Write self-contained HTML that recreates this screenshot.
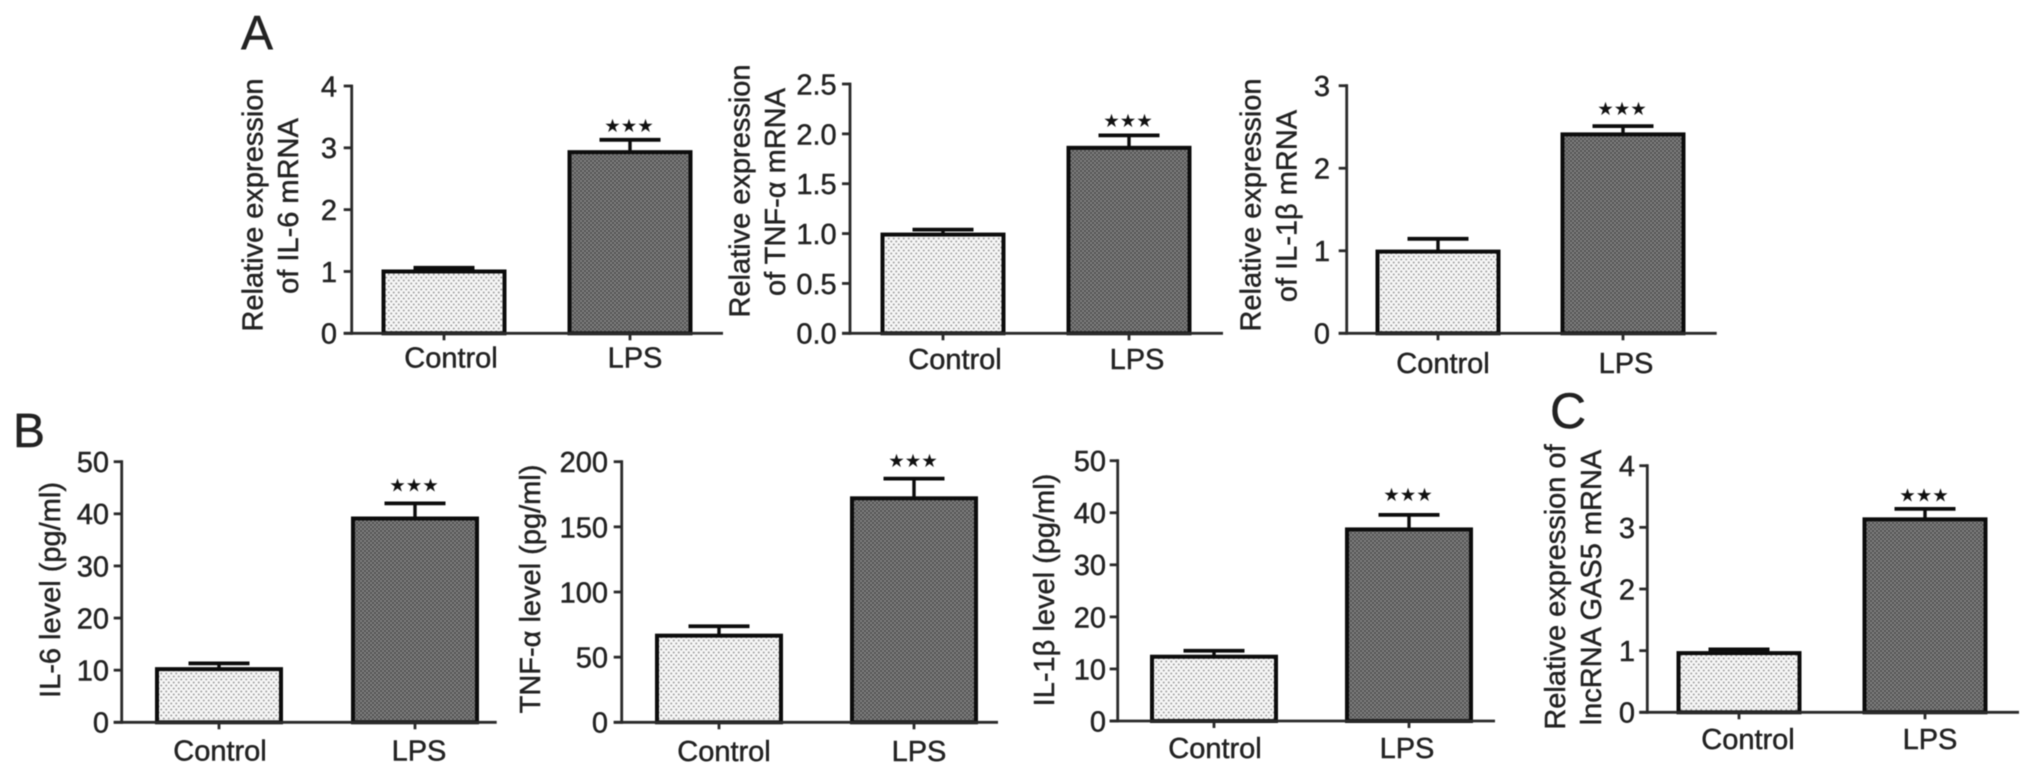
<!DOCTYPE html>
<html lang="en">
<head>
<meta charset="utf-8">
<title>Cytokine and GAS5 expression bar charts</title>
<style>
  html, body { margin: 0; padding: 0; background: #fff; width: 2032px; height: 774px; overflow: hidden; }
  svg { display: block; filter: blur(0.55px); }
  text { font-family: "Liberation Sans", "DejaVu Sans", sans-serif; fill: #222; stroke: #222; stroke-width: 0.45px; }
</style>
</head>
<body>
<svg id="figure" xmlns="http://www.w3.org/2000/svg" width="2032" height="774" viewBox="0 0 2032 774">
  <defs>
    <pattern id="dots-light" patternUnits="userSpaceOnUse" width="5" height="6">
      <rect width="5" height="6" fill="#f7f7f7"/>
      <circle cx="1.25" cy="1.5" r="1.05" fill="#a2a2a2"/>
      <circle cx="3.75" cy="4.5" r="1.05" fill="#a2a2a2"/>
    </pattern>
    <pattern id="dots-dark" patternUnits="userSpaceOnUse" width="4" height="4">
      <rect width="4" height="4" fill="#555"/>
      <circle cx="1" cy="1" r="0.95" fill="#909090"/>
      <circle cx="3" cy="3" r="0.95" fill="#909090"/>
    </pattern>
  </defs>
  <text x="241" y="49" font-size="48">A</text>
  <text x="13" y="447" font-size="48">B</text>
  <text x="1550" y="428" font-size="50">C</text>
</svg>
<script>
// ---- chart data ----
const categories = ['Control', 'LPS'];

const il6MrnaValues = [1.0, 2.93];
const il6MrnaErrors = [0.06, 0.2];
const il6MrnaTicks = ['0', '1', '2', '3', '4'];

const tnfMrnaValues = [0.99, 1.86];
const tnfMrnaErrors = [0.05, 0.125];
const tnfMrnaTicks = ['0.0', '0.5', '1.0', '1.5', '2.0', '2.5'];

const il1bMrnaValues = [0.99, 2.41];
const il1bMrnaErrors = [0.155, 0.1];
const il1bMrnaTicks = ['0', '1', '2', '3'];

const il6LevelValues = [10.2, 39.1];
const il6LevelErrors = [1.1, 2.9];
const il6LevelTicks = ['0', '10', '20', '30', '40', '50'];

const tnfLevelValues = [66.5, 171.9];
const tnfLevelErrors = [7.2, 15.1];
const tnfLevelTicks = ['0', '50', '100', '150', '200'];

const il1bLevelValues = [12.35, 36.8];
const il1bLevelErrors = [1.15, 2.8];
const il1bLevelTicks = ['0', '10', '20', '30', '40', '50'];

const gas5Values = [0.96, 3.13];
const gas5Errors = [0.06, 0.17];
const gas5Ticks = ['0', '1', '2', '3', '4'];

// ---- panel layout (frames only, no data) ----
const panels = [
  { key: 'il6-mrna', values: il6MrnaValues, errors: il6MrnaErrors, ticks: il6MrnaTicks,
    axisX: 351.7, top: 86, base: 333.3, endX: 723, first: 444, step: 186, barW: 121,
    tickRight: 337, catY: 367.7, catDx: [7, 5], starDy: 14.6,
    titles: [['Relative expression', 262.7, 205], ['of IL-6 mRNA', 298, 206]] },
  { key: 'tnf-mrna', values: tnfMrnaValues, errors: tnfMrnaErrors, ticks: tnfMrnaTicks,
    axisX: 850, top: 84, base: 333.3, endX: 1223, first: 943, step: 186, barW: 121,
    tickRight: 836.7, catY: 369, catDx: [12, 8], starDy: 15.3,
    titles: [['Relative expression', 749.3, 191], ['of TNF-α mRNA', 785, 192]] },
  { key: 'il1b-mrna', values: il1bMrnaValues, errors: il1bMrnaErrors, ticks: il1bMrnaTicks,
    axisX: 1346.7, top: 85.7, base: 333.3, endX: 1716.7, first: 1438, step: 185, barW: 121,
    tickRight: 1330, catY: 373, catDx: [5, 3], starDy: 18.3,
    titles: [['Relative expression', 1260.7, 205], ['of IL-1β mRNA', 1296.7, 206]] },
  { key: 'il6-level', values: il6LevelValues, errors: il6LevelErrors, ticks: il6LevelTicks,
    axisX: 121.7, top: 461.7, base: 722.3, endX: 496.7, first: 219, step: 196, barW: 124,
    tickRight: 109, catY: 760.7, catDx: [1, 4], starDy: 19,
    titles: [['IL-6 level (pg/ml)', 60, 590]] },
  { key: 'tnf-level', values: tnfLevelValues, errors: tnfLevelErrors, ticks: tnfLevelTicks,
    axisX: 621.7, top: 461.7, base: 722.3, endX: 998, first: 719, step: 195, barW: 124,
    tickRight: 608, catY: 761, catDx: [5, 5], starDy: 18.7,
    titles: [['TNF-α level (pg/ml)', 540, 589]] },
  { key: 'il1b-level', values: il1bLevelValues, errors: il1bLevelErrors, ticks: il1bLevelTicks,
    axisX: 1117.7, top: 460.7, base: 721, endX: 1495, first: 1214, step: 195, barW: 124,
    tickRight: 1106, catY: 758, catDx: [1, -2], starDy: 20.7,
    titles: [['IL-1β level (pg/ml)', 1054, 590]] },
  { key: 'gas5', values: gas5Values, errors: gas5Errors, ticks: gas5Ticks,
    axisX: 1647.3, top: 465.7, base: 712.3, endX: 2019, first: 1739, step: 186, barW: 121,
    tickRight: 1635, catY: 749, catDx: [9, 5], starDy: 14.4,
    titles: [['Relative expression of', 1565, 587], ['lncRNA GAS5 mRNA', 1601, 587.5]] }
];

const SVG_NS = 'http://www.w3.org/2000/svg';
const figure = document.getElementById('figure');
const INK = '#0c0c0c';
const AXIS_INK = '#2a2a2a';

function make(parent, tag, props) {
  const node = document.createElementNS(SVG_NS, tag);
  Object.keys(props).forEach(function (k) { node.setAttribute(k, props[k]); });
  parent.appendChild(node);
  return node;
}

panels.forEach(function (p) {
  const tickNums = p.ticks.map(Number);
  const yMax = Math.max.apply(null, tickNums);
  const yScale = function (v) { return p.base - (v / yMax) * (p.base - p.top); };
  const xScale = function (i) { return p.first + i * p.step; };

  const group = make(figure, 'g', {});
  
  

  // y-axis title
  p.titles.forEach(function (t) {
    const el = make(group, 'text', {
      x: t[1], y: t[2], 'font-size': 29, 'text-anchor': 'middle',
      transform: 'rotate(-90 ' + t[1] + ' ' + t[2] + ')'
    });
    el.textContent = t[0];
    
    
  });

  // y ticks and labels
  p.ticks.forEach(function (label, i) {
    const y = yScale(tickNums[i]);
    const tick = make(group, 'line', {
      x1: p.axisX - 8, x2: p.axisX, y1: y, y2: y, stroke: AXIS_INK, 'stroke-width': 2.8
    });
    
    
    const el = make(group, 'text', {
      x: p.tickRight, y: y + 10.4, 'font-size': 29, 'text-anchor': 'end'
    });
    el.textContent = label;
    
    
  });

  // bars, error bars, category labels
  categories.forEach(function (cat, i) {
    const cx = xScale(i);
    const yVal = yScale(p.values[i]);
    const yErr = yScale(p.values[i] + p.errors[i]);

    const stem = make(group, 'line', {
      x1: cx, x2: cx, y1: yVal, y2: yErr, stroke: INK, 'stroke-width': 3.4
    });
    
    

    const cap = make(group, 'line', {
      x1: cx - 30.5, x2: cx + 30.5, y1: yErr, y2: yErr, stroke: INK, 'stroke-width': 3.8
    });
    
    

    const bar = make(group, 'rect', {
      x: cx - p.barW / 2, y: yVal, width: p.barW, height: p.base - yVal,
      fill: i === 0 ? 'url(#dots-light)' : 'url(#dots-dark)',
      stroke: INK, 'stroke-width': 4
    });
    
    

    const tick = make(group, 'line', {
      x1: cx, x2: cx, y1: p.base, y2: p.base + 7, stroke: AXIS_INK, 'stroke-width': 2.8
    });
    
    

    const label = make(group, 'text', {
      x: cx + p.catDx[i], y: p.catY, 'font-size': 29, 'text-anchor': 'middle'
    });
    label.textContent = cat;
    
    

    if (i === 1) {
      const stars = make(group, 'text', {
        x: cx - 1, y: yErr - p.starDy + 7, 'font-size': 18.4, 'text-anchor': 'middle',
        style: 'font-family:&quot;DejaVu Sans&quot;,sans-serif;'.replace(/&quot;/g, '"') + 'fill:#111;stroke:none'
      });
      stars.textContent = '★★★';
      
      
    }
  });

  // axes
  const yAxis = make(group, 'line', {
    x1: p.axisX, x2: p.axisX, y1: p.top - 1.4, y2: p.base + 1.4, stroke: AXIS_INK, 'stroke-width': 2.8
  });
  
  

  const xAxis = make(group, 'line', {
    x1: p.axisX - 8, x2: p.endX, y1: p.base, y2: p.base, stroke: AXIS_INK, 'stroke-width': 2.8
  });
  
  
});
</script>
</body>
</html>
